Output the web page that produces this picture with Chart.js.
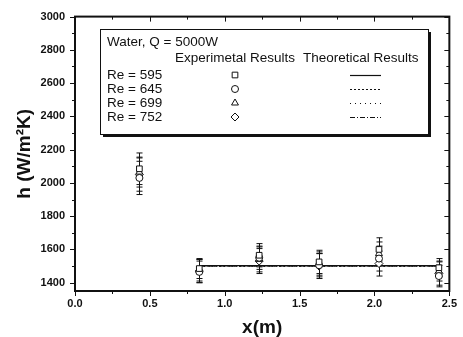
<!DOCTYPE html>
<html>
<head>
<meta charset="utf-8">
<script src="https://cdn.jsdelivr.net/npm/chart.js@4"></script>
<style>
  body { margin: 0; background: #fff; }
  canvas { display: block; }
</style>
</head>
<body>
<canvas id="chart" width="463" height="337"></canvas>
<script>
// measuring positions along the pipe (m)
const xPos = [0.43, 0.83, 1.23, 1.63, 2.03, 2.43];

// measured heat transfer coefficient h (W/m2K)
const h595 = [2085, 1485, 1565, 1525, 1600, 1490];
const h645 = [2030, 1465, 1550, 1505, 1545, 1440];
const h699 = [2065, 1475, 1540, 1515, 1575, 1470];
const h752 = [2050, 1470, 1530, 1500, 1515, 1455];

// uncertainty of each measurement (+/-)
const err595 = [95, 60, 70, 70, 70, 55];
const err645 = [100, 65, 70, 70, 75, 65];
const err699 = [90, 65, 75, 70, 70, 60];
const err752 = [100, 70, 75, 75, 75, 70];

// theoretical prediction over the developed section
const theoX = [0.83, 2.43];
const theo595 = [1502, 1502];
const theo645 = [1500, 1500];
const theo699 = [1498, 1498];
const theo752 = [1501, 1501];

const reLabels = ['Re = 595', 'Re = 645', 'Re = 699', 'Re = 752'];
const markerStyles = ['rect', 'circle', 'triangle', 'rectRot'];
const lineDashes = [[], [2, 2], [1, 4], [5, 2, 1, 2]];

const xTickValues = [0.0, 0.5, 1.0, 1.5, 2.0, 2.5];
const yTickValues = [1400, 1600, 1800, 2000, 2200, 2400, 2600, 2800, 3000];

const measured = [h595, h645, h699, h752];
const errors = [err595, err645, err699, err752];
const theory = [theo595, theo645, theo699, theo752];

const ink = '#111';
const family = '"Liberation Sans", Arial, sans-serif';

const toPoints = (xs, ys) => xs.map((x, i) => ({ x, y: ys[i] }));
const markerRadius = (style) => style === 'circle' ? 3.5 : 4;

const datasets = [];
theory.forEach((t, i) => {
  datasets.push({
    type: 'line',
    label: reLabels[i] + ' theory',
    data: toPoints(theoX, t),
    borderColor: ink,
    borderWidth: 1.2,
    borderDash: lineDashes[i],
    pointRadius: 0,
    fill: false,
    order: 2
  });
});
measured.forEach((m, i) => {
  datasets.push({
    type: 'scatter',
    label: reLabels[i],
    data: toPoints(xPos, m),
    pointStyle: markerStyles[i],
    pointRadius: markerRadius(markerStyles[i]),
    borderColor: ink,
    borderWidth: 1,
    backgroundColor: '#fff',
    order: 1
  });
});

// error bars, box frame with minor ticks, and the in-plot key
const extras = {
  id: 'extras',
  beforeDatasetsDraw(chart) {
    const { ctx, scales: { x, y } } = chart;
    ctx.save();
    ctx.strokeStyle = ink;
    ctx.lineWidth = 1;
    measured.forEach((m, i) => {
      m.forEach((v, j) => {
        const px = Math.round(x.getPixelForValue(xPos[j])) + 0.5;
        const top = y.getPixelForValue(v + errors[i][j]);
        const bot = y.getPixelForValue(v - errors[i][j]);
        ctx.beginPath();
        ctx.moveTo(px, top);
        ctx.lineTo(px, bot);
        ctx.moveTo(px - 3, top);
        ctx.lineTo(px + 3, top);
        ctx.moveTo(px - 3, bot);
        ctx.lineTo(px + 3, bot);
        ctx.stroke();
      });
    });
    ctx.restore();
  },
  afterDraw(chart) {
    const { ctx, chartArea: a, scales: { x, y } } = chart;
    ctx.save();
    ctx.strokeStyle = ink;
    ctx.lineWidth = 2;
    ctx.strokeRect(a.left, a.top, a.right - a.left, a.bottom - a.top);

    ctx.lineWidth = 1;
    ctx.beginPath();
    for (let v = 1400; v <= 3000; v += 100) {
      const py = Math.round(y.getPixelForValue(v)) + 0.5;
      const len = v % 200 === 0 ? 5 : 3;
      ctx.moveTo(a.left - len, py);
      ctx.lineTo(a.left, py);
      ctx.moveTo(a.right, py);
      ctx.lineTo(a.right - len, py);
    }
    for (let v = 0; v <= 2.5001; v += 0.25) {
      const px = Math.round(x.getPixelForValue(v)) + 0.5;
      const len = Math.abs(v * 2 - Math.round(v * 2)) < 1e-6 ? 5 : 3;
      ctx.moveTo(px, a.bottom);
      ctx.lineTo(px, a.bottom + len);
      ctx.moveTo(px, a.top);
      ctx.lineTo(px, a.top + len);
    }
    ctx.stroke();

    // key box with drop shadow
    const bx = 100, by = 29, bw = 328, bh = 105;
    ctx.fillStyle = ink;
    ctx.fillRect(bx + 3, by + 3, bw, bh);
    ctx.fillStyle = '#fff';
    ctx.fillRect(bx, by, bw, bh);
    ctx.lineWidth = 1;
    ctx.strokeRect(bx + 0.5, by + 0.5, bw, bh);

    ctx.fillStyle = ink;
    ctx.font = '13.5px ' + family;
    ctx.textBaseline = 'middle';
    ctx.textAlign = 'left';
    ctx.fillText('Water, Q = 5000W', 107, 42);
    ctx.fillText('Experimetal Results', 175, 58);
    ctx.fillText('Theoretical Results', 303, 58);

    const rows = [75, 89, 103, 117];
    rows.forEach((ry, i) => {
      ctx.fillStyle = ink;
      ctx.fillText(reLabels[i], 107, ry);

      ctx.save();
      ctx.fillStyle = '#fff';
      ctx.strokeStyle = ink;
      ctx.lineWidth = 1;
      Chart.helpers.drawPoint(ctx, {
        pointStyle: markerStyles[i], radius: markerRadius(markerStyles[i]), borderWidth: 1
      }, 235, ry);
      ctx.restore();

      ctx.save();
      ctx.strokeStyle = ink;
      ctx.lineWidth = 1.2;
      ctx.setLineDash(lineDashes[i]);
      ctx.beginPath();
      ctx.moveTo(350, ry + 0.5);
      ctx.lineTo(381, ry + 0.5);
      ctx.stroke();
      ctx.restore();
    });
    ctx.restore();
  }
};

new Chart(document.getElementById('chart'), {
  type: 'scatter',
  data: { datasets },
  options: {
    responsive: false,
    animation: false,
    layout: { padding: { top: 13, right: 8, left: 0, bottom: 0 } },
    plugins: {
      legend: { display: false },
      tooltip: { enabled: false }
    },
    scales: {
      x: {
        type: 'linear',
        min: 0,
        max: 2.5,
        afterFit: (scale) => { scale.height = 46; },
        afterBuildTicks: (scale) => {
          scale.ticks = xTickValues.map(v => ({ value: v }));
        },
        grid: { display: false, drawTicks: false },
        border: { display: false },
        ticks: {
          padding: 6,
          color: ink,
          font: { family, size: 11, weight: 'bold' },
          callback: (v) => Number(v).toFixed(1)
        },
        title: {
          display: true,
          text: 'x(m)',
          color: ink,
          font: { family, size: 19, weight: 'bold', lineHeight: 1 },
          padding: { top: 0, bottom: 0 }
        }
      },
      y: {
        type: 'linear',
        min: 1350,
        max: 3000,
        afterFit: (scale) => { scale.width = 75; },
        afterBuildTicks: (scale) => {
          scale.ticks = yTickValues.map(v => ({ value: v }));
        },
        grid: { display: false, drawTicks: false },
        border: { display: false },
        ticks: {
          padding: 10,
          color: ink,
          font: { family, size: 11, weight: 'bold' },
          callback: (v) => String(v)
        },
        title: {
          display: true,
          text: 'h (W/m²K)',
          color: ink,
          font: { family, size: 19, weight: 'bold', lineHeight: 1 },
          padding: { top: 15, bottom: 0 }
        }
      }
    }
  },
  plugins: [extras]
});
</script>
</body>
</html>
